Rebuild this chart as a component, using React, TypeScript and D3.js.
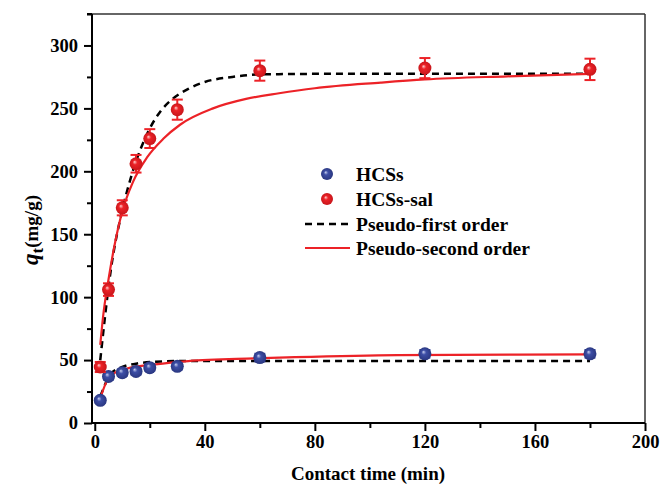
import React, { useEffect, useRef } from "react";
import { axisBottom, axisLeft, scaleLinear, select, line, curveMonotoneX, range } from "d3";

// measured points
const times = [2, 5, 10, 15, 20, 30, 60, 120, 180];
const hcss = [18, 37, 40, 41, 44, 45, 52, 55, 55];
const hcssErr = [2, 2.5, 2.5, 2.5, 2.5, 2.5, 3, 3, 3];
const hcssSal = [44.5, 106, 171, 206, 226, 249, 280, 282, 281];
const hcssSalErr = [4, 5, 6, 7, 7.5, 8, 8, 8, 8.5];

// fitted curves
const salPfoT = [2, 6, 10, 13, 20, 24, 28, 34, 40, 50, 60, 90, 120, 180];
const salPfoQ = [50, 124, 169, 194, 234, 248, 257, 265.5, 271, 275, 277, 277.5, 277.5, 277.5];
const salPsoT = [2, 3, 5, 7, 10, 14, 19, 25, 31, 43, 55, 67, 80, 104, 120, 150, 180];
const salPsoQ = [62, 84, 114, 139, 168, 192, 211, 226, 237, 250, 257.5, 262, 266, 270.5, 273, 275.5, 277.5];
const hcssPfoT = [2, 6, 10, 16, 22, 30, 60, 120, 180];
const hcssPfoQ = [21, 39.5, 44.5, 47.5, 48.7, 49.2, 49.2, 49.2, 49.2];
const hcssPsoT = [2, 4, 7, 12, 22, 34, 58, 70, 110, 180];
const hcssPsoQ = [19.6, 31.5, 39.4, 43.4, 46.6, 49.2, 51.3, 52.1, 54, 54.5];

const xTicks = [0, 40, 80, 120, 160, 200];
const yTicks = [0, 50, 100, 150, 200, 250, 300];

const legendItems = ["HCSs", "HCSs-sal", "Pseudo-first order", "Pseudo-second order"];

const FONT = "'Liberation Serif', 'Times New Roman', serif";
const RED = "#ec2227";
const BLUE = "#3d4ea6";

const left = 92, right = 645, top = 14, bottom = 423;

function XAxis({ scale }) {
  const major = useRef(null);
  const minor = useRef(null);
  useEffect(() => {
    select(major.current)
      .call(axisBottom(scale).tickValues(xTicks).tickSize(8).tickPadding(4).tickSizeOuter(0))
      .call((g) => g.select(".domain").remove())
      .selectAll("text")
      .style("font-family", FONT)
      .style("font-weight", "bold")
      .style("font-size", "18.5px")
      .attr("fill", "#000");
    select(major.current).selectAll("line").attr("stroke", "#000").attr("stroke-width", 2);
    select(minor.current)
      .call(axisBottom(scale).tickValues(range(20, 200, 40)).tickSize(5).tickFormat(() => "").tickSizeOuter(0))
      .call((g) => g.select(".domain").remove())
      .selectAll("line").attr("stroke", "#000").attr("stroke-width", 2);
  }, [scale]);
  return (
    <>
      <g ref={major} transform={`translate(0,${bottom})`} />
      <g ref={minor} transform={`translate(0,${bottom})`} />
    </>
  );
}

function YAxis({ scale }) {
  const major = useRef(null);
  const minor = useRef(null);
  useEffect(() => {
    select(major.current)
      .call(axisLeft(scale).tickValues(yTicks).tickSize(8).tickPadding(6).tickSizeOuter(0))
      .call((g) => g.select(".domain").remove())
      .selectAll("text")
      .style("font-family", FONT)
      .style("font-weight", "bold")
      .style("font-size", "18.5px")
      .attr("fill", "#000");
    select(major.current).selectAll("line").attr("stroke", "#000").attr("stroke-width", 2);
    select(minor.current)
      .call(axisLeft(scale).tickValues(range(25, 330, 50)).tickSize(5).tickFormat(() => "").tickSizeOuter(0))
      .call((g) => g.select(".domain").remove())
      .selectAll("line").attr("stroke", "#000").attr("stroke-width", 2);
  }, [scale]);
  return (
    <>
      <g ref={major} transform={`translate(${left},0)`} />
      <g ref={minor} transform={`translate(${left},0)`} />
    </>
  );
}

function Points({ xs, ys, errs, color, grad, x, y }) {
  return (
    <g>
      {xs.map((t, i) => {
        const cx = x(t);
        const cy = y(ys[i]);
        const y1 = y(ys[i] + errs[i]);
        const y2 = y(ys[i] - errs[i]);
        return (
          <g key={`p-${t}`}>
            <line x1={cx} x2={cx} y1={y1} y2={y2} stroke={color} strokeWidth={2} />
            <line x1={cx - 5.5} x2={cx + 5.5} y1={y1} y2={y1} stroke={color} strokeWidth={2} />
            <line x1={cx - 5.5} x2={cx + 5.5} y1={y2} y2={y2} stroke={color} strokeWidth={2} />
            <circle cx={cx} cy={cy} r={6.5} fill={`url(#${grad})`} />
          </g>
        );
      })}
    </g>
  );
}

export default function App() {
  const x = scaleLinear().domain([-1, 200]).range([left, right]);
  const y = scaleLinear().domain([0, 325]).range([bottom, top]);

  const path = (ts, qs) =>
    line()
      .x((d) => x(d[0]))
      .y((d) => y(d[1]))
      .curve(curveMonotoneX)(ts.map((t, i) => [t, qs[i]]));

  const lx = 327;
  const ly = [174, 199, 224, 248];

  return (
    <svg width={666} height={484} style={{ position: "absolute", left: 0, top: 0 }}>
      <defs>
        <radialGradient id="gRed" cx="50%" cy="50%" r="50%" fx="38%" fy="35%">
          <stop offset="0%" stopColor="#ffd0d0" />
          <stop offset="35%" stopColor={RED} />
          <stop offset="100%" stopColor="#c8161b" />
        </radialGradient>
        <radialGradient id="gBlue" cx="50%" cy="50%" r="50%" fx="38%" fy="35%">
          <stop offset="0%" stopColor="#c8d0f0" />
          <stop offset="35%" stopColor={BLUE} />
          <stop offset="100%" stopColor="#2a3780" />
        </radialGradient>
      </defs>
      <rect x={0} y={0} width={666} height={484} fill="#fff" />

      {/* frame */}
      <line x1={left} x2={right} y1={top} y2={top} stroke="#333" strokeWidth={1.5} />
      <line x1={right} x2={right} y1={top} y2={bottom} stroke="#333" strokeWidth={1.5} />
      <line x1={left} x2={right} y1={bottom} y2={bottom} stroke="#000" strokeWidth={2} />
      <line x1={left} x2={left} y1={top} y2={bottom} stroke="#000" strokeWidth={2} />
      <line x1={left - 5} x2={left} y1={top} y2={top} stroke="#000" strokeWidth={2} />

      <XAxis scale={x} />
      <YAxis scale={y} />

      {/* fits */}
      <path d={path(hcssPfoT, hcssPfoQ)} fill="none" stroke="#000" strokeWidth={2.5} strokeDasharray="7,5" />
      <path d={path(salPfoT, salPfoQ)} fill="none" stroke="#000" strokeWidth={2.5} strokeDasharray="7,5" />
      <path d={path(hcssPsoT, hcssPsoQ)} fill="none" stroke={RED} strokeWidth={2.2} />
      <path d={path(salPsoT, salPsoQ)} fill="none" stroke={RED} strokeWidth={2.2} />

      <Points xs={times} ys={hcss} errs={hcssErr} color={BLUE} grad="gBlue" x={x} y={y} />
      <Points xs={times} ys={hcssSal} errs={hcssSalErr} color={RED} grad="gRed" x={x} y={y} />

      {/* legend */}
      <circle cx={lx} cy={ly[0]} r={6} fill="url(#gBlue)" />
      <circle cx={lx} cy={ly[1]} r={6} fill="url(#gRed)" />
      <line x1={305} x2={350} y1={ly[2]} y2={ly[2]} stroke="#000" strokeWidth={2.5} strokeDasharray="7,5" />
      <line x1={305} x2={350} y1={ly[3]} y2={ly[3]} stroke={RED} strokeWidth={2.2} />
      {legendItems.map((s, i) => (
        <text key={s} x={356} y={ly[i] + 6.5} fontFamily={FONT} fontWeight="bold" fontSize={19.5} fill="#000">
          {s}
        </text>
      ))}

      {/* axis titles */}
      <text x={368} y={480} textAnchor="middle" fontFamily={FONT} fontWeight="bold" fontSize={19} fill="#000">
        Contact time (min)
      </text>
      <text transform="translate(38,230) rotate(-90)" textAnchor="middle" fontFamily={FONT} fontWeight="bold" fontSize={19} fill="#000">
        <tspan fontStyle="italic" fontSize={23}>q</tspan>
        <tspan dy={5} fontSize={17}>t</tspan>
        <tspan dy={-5}>(mg/g)</tspan>
      </text>
    </svg>
  );
}
